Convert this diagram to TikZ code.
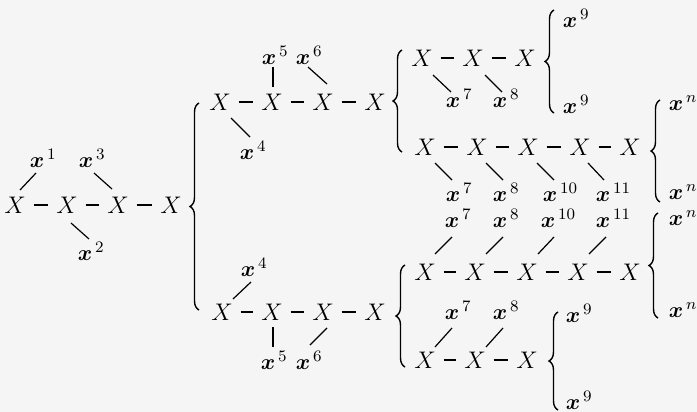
\documentclass[tikz,border=0pt]{standalone}
\usepackage{amsmath,amssymb}
\usepackage{bm}
\usepackage{tikz}
\usetikzlibrary{calc,decorations.pathreplacing}
\newcommand{\xsup}[1]{$\bm{x}$\rlap{$^{\,#1}$}}

\begin{document}
\begin{tikzpicture}[x=0.5pt, y=-0.5pt,
    atom/.style={inner sep=0pt, font=\fontsize{11.5}{13}\selectfont},
    sub/.style={inner sep=0pt, font=\fontsize{11}{13}\selectfont},
    bond/.style={line width=0.8pt, shorten <=3.8pt, shorten >=3.8pt},
    lnk/.style={line width=0.6pt},
    brc/.style={decorate, decoration={brace, amplitude=4.5pt}, line width=0.7pt}
]
    \fill[black!4] (0,0) rectangle (697,412);
    \useasboundingbox (0,0) rectangle (697,412);

    % first chain
    \node[atom] (a1) at (15,205) {$X$};
    \node[atom] (a2) at (67,205) {$X$};
    \node[atom] (a3) at (118,205) {$X$};
    \node[atom] (a4) at (171,205) {$X$};
    \node[sub] (t1) at (37,158) {\xsup{1}};
    \node[sub] (t3) at (86,158) {\xsup{3}};
    \node[sub] (t2) at (85,251) {\xsup{2}};
    \draw[bond] (a1) -- (a2);
    \draw[bond] (a2) -- (a3);
    \draw[bond] (a3) -- (a4);
    \draw[lnk] ($(a1)+(5,-15)$) -- ($(t1)+(-1,15)$);
    \draw[lnk] ($(a3)+(-6,-16)$) -- ($(t3)+(8,15)$);
    \draw[lnk] ($(a2)+(4,18)$) -- ($(t2)+(4,-12)$);
    \draw[brc] (199,310) -- (199,103);

    % upper chain
    \node[atom] (u1) at (220,102) {$X$};
    \node[atom] (u2) at (272,102) {$X$};
    \node[atom] (u3) at (323,102) {$X$};
    \node[atom] (u4) at (375,102) {$X$};
    \node[sub] (u5x) at (269,55) {\xsup{5}};
    \node[sub] (u6x) at (303,55) {\xsup{6}};
    \node[sub] (u4x) at (247,150) {\xsup{4}};
    \draw[bond] (u1) -- (u2);
    \draw[bond] (u2) -- (u3);
    \draw[bond] (u3) -- (u4);
    \draw[lnk] ($(u2)+(1,-15)$) -- ($(u5x)+(4,12)$);
    \draw[lnk] ($(u3)+(4,-18)$) -- ($(u6x)+(5,12)$);
    \draw[lnk] ($(u1)+(11,16)$) -- ($(u4x)+(3,-13)$);
    \draw[brc] (402,152) -- (402,50);

    % upper chain, first branch
    \node[atom] (ua1) at (422,58) {$X$};
    \node[atom] (ua2) at (473,58) {$X$};
    \node[atom] (ua3) at (525,58) {$X$};
    \node[sub] (ua7) at (453,98) {\xsup{7}};
    \node[sub] (ua8) at (500,98) {\xsup{8}};
    \node[sub] (ua9a) at (570,18) {\xsup{9}};
    \node[sub] (ua9b) at (570,104) {\xsup{9}};
    \draw[bond] (ua1) -- (ua2);
    \draw[bond] (ua2) -- (ua3);
    \draw[lnk] ($(ua1)+(11,17)$) -- ($(ua7)+(-2,-6)$);
    \draw[lnk] ($(ua2)+(12,17)$) -- ($(ua8)+(2,-6)$);
    \draw[brc] (554,113) -- (554,10);

    % upper chain, second branch
    \node[atom] (ub1) at (425,147) {$X$};
    \node[atom] (ub2) at (477,147) {$X$};
    \node[atom] (ub3) at (528,147) {$X$};
    \node[atom] (ub4) at (580,147) {$X$};
    \node[atom] (ub5) at (630,147) {$X$};
    \node[sub] (ub7) at (453,192) {\xsup{7}};
    \node[sub] (ub8) at (500,192) {\xsup{8}};
    \node[sub] (ub10) at (550,192) {\xsup{10}};
    \node[sub] (ub11) at (603,192) {\xsup{11}};
    \node[sub] (ubna) at (676,103) {\xsup{n}};
    \node[sub] (ubnb) at (676,192) {\xsup{n}};
    \draw[bond] (ub1) -- (ub2);
    \draw[bond] (ub2) -- (ub3);
    \draw[bond] (ub3) -- (ub4);
    \draw[bond] (ub4) -- (ub5);
    \draw[lnk] ($(ub1)+(10,16)$) -- ($(ub7)+(-1,-12)$);
    \draw[lnk] ($(ub2)+(9,16)$) -- ($(ub8)+(3,-12)$);
    \draw[lnk] ($(ub3)+(9,16)$) -- ($(ub10)+(4,-12)$);
    \draw[lnk] ($(ub4)+(8,16)$) -- ($(ub11)+(1,-12)$);
    \draw[brc] (660,202) -- (660,100);

    % lower chain
    \node[atom] (l1) at (222,312) {$X$};
    \node[atom] (l2) at (272,312) {$X$};
    \node[atom] (l3) at (323,312) {$X$};
    \node[atom] (l4) at (375,312) {$X$};
    \node[sub] (l4x) at (248,267) {\xsup{4}};
    \node[sub] (l5x) at (268,360) {\xsup{5}};
    \node[sub] (l6x) at (303,360) {\xsup{6}};
    \draw[bond] (l1) -- (l2);
    \draw[bond] (l2) -- (l3);
    \draw[bond] (l3) -- (l4);
    \draw[lnk] ($(l1)+(11,-13)$) -- ($(l4x)+(3,15)$);
    \draw[lnk] ($(l2)+(1,15)$) -- ($(l5x)+(5,-13)$);
    \draw[lnk] ($(l3)+(4,16)$) -- ($(l6x)+(7,-15)$);
    \draw[brc] (405,367) -- (405,265);

    % lower chain, first branch
    \node[atom] (la1) at (425,272) {$X$};
    \node[atom] (la2) at (475,272) {$X$};
    \node[atom] (la3) at (527,272) {$X$};
    \node[atom] (la4) at (578,272) {$X$};
    \node[atom] (la5) at (630,272) {$X$};
    \node[sub] (la7) at (452,218) {\xsup{7}};
    \node[sub] (la8) at (500,218) {\xsup{8}};
    \node[sub] (la10) at (548,218) {\xsup{10}};
    \node[sub] (la11) at (603,218) {\xsup{11}};
    \node[sub] (lana) at (676,218) {\xsup{n}};
    \node[sub] (lanb) at (676,310) {\xsup{n}};
    \draw[bond] (la1) -- (la2);
    \draw[bond] (la2) -- (la3);
    \draw[bond] (la3) -- (la4);
    \draw[bond] (la4) -- (la5);
    \draw[lnk] ($(la1)+(10,-18)$) -- ($(la7)+(0,19)$);
    \draw[lnk] ($(la2)+(11,-18)$) -- ($(la8)+(3,19)$);
    \draw[lnk] ($(la3)+(11,-18)$) -- ($(la10)+(6,19)$);
    \draw[lnk] ($(la4)+(11,-18)$) -- ($(la11)+(3,19)$);
    \draw[brc] (658,318) -- (658,213);

    % lower chain, second branch
    \node[atom] (lb1) at (425,360) {$X$};
    \node[atom] (lb2) at (475,360) {$X$};
    \node[atom] (lb3) at (527,360) {$X$};
    \node[sub] (lb7) at (452,310) {\xsup{7}};
    \node[sub] (lb8) at (500,310) {\xsup{8}};
    \node[sub] (lb9a) at (573,313) {\xsup{9}};
    \node[sub] (lb9b) at (573,400) {\xsup{9}};
    \draw[bond] (lb1) -- (lb2);
    \draw[bond] (lb2) -- (lb3);
    \draw[lnk] ($(lb1)+(10,-13)$) -- ($(lb7)+(0,18)$);
    \draw[lnk] ($(lb2)+(11,-13)$) -- ($(lb8)+(3,18)$);
    \draw[brc] (558,410) -- (558,312);
\end{tikzpicture}
\end{document}
